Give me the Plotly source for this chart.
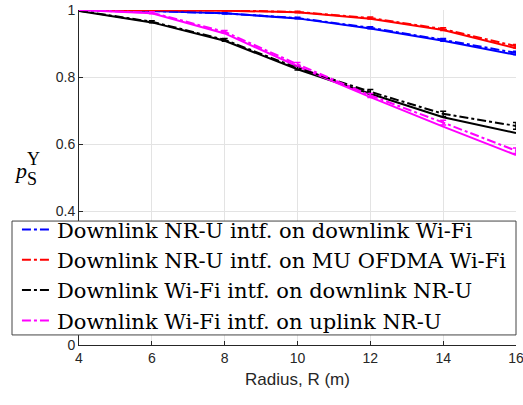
import plotly.graph_objects as go

radius = [4, 6, 8, 10, 12, 14, 16]

blue_solid = [1.0, 0.997, 0.99, 0.975, 0.945, 0.908, 0.866]
blue_dash = [1.0, 0.997, 0.99, 0.976, 0.947, 0.911, 0.872]
blue_err = [0.001, 0.001, 0.002, 0.002, 0.003, 0.004, 0.005]

red_solid = [1.0, 1.0, 0.998, 0.993, 0.974, 0.94, 0.886]
red_dash = [1.0, 1.0, 0.999, 0.994, 0.976, 0.943, 0.892]
red_err = [0.001, 0.001, 0.002, 0.002, 0.003, 0.004, 0.005]

black_solid = [0.997, 0.963, 0.908, 0.823, 0.75, 0.68, 0.633]
black_dash = [0.998, 0.965, 0.911, 0.827, 0.756, 0.69, 0.654]
black_err = [0.001, 0.003, 0.004, 0.006, 0.007, 0.008, 0.01]

mag_solid = [1.0, 0.99, 0.93, 0.832, 0.74, 0.652, 0.567]
mag_dash = [1.0, 0.992, 0.935, 0.838, 0.745, 0.664, 0.58]
mag_err = [0.001, 0.003, 0.004, 0.005, 0.006, 0.007, 0.008]

names = [
    "Downlink NR-U intf. on downlink Wi-Fi",
    "Downlink NR-U intf. on MU OFDMA Wi-Fi",
    "Downlink Wi-Fi intf. on downlink NR-U",
    "Downlink Wi-Fi intf. on uplink NR-U",
]
x_ticks = [4, 6, 8, 10, 12, 14, 16]
y_ticks = [0, 0.2, 0.4, 0.6, 0.8, 1]
y_tick_labels = ["0", "", "0.4", "0.6", "0.8", "1"]  # 0.2 is hidden by the legend

colors = ["#0000ff", "#ff0000", "#000000", "#ff00ff"]
solids = [blue_solid, red_solid, black_solid, mag_solid]
dashes = [blue_dash, red_dash, black_dash, mag_dash]
errs = [blue_err, red_err, black_err, mag_err]

fig = go.Figure()
for s, c in zip(solids, colors):
    fig.add_trace(go.Scatter(x=radius, y=s, mode="lines",
                             line=dict(color=c, width=2), showlegend=False))
for n, d, e, c in zip(names, dashes, errs, colors):
    fig.add_trace(go.Scatter(x=radius, y=d, mode="lines", name=n,
                             line=dict(color=c, width=2, dash="dashdot"),
                             error_y=dict(type="data", array=e, color=c,
                                          thickness=1.5, width=3)))

axis_common = dict(showgrid=True, gridcolor="#e3e3e3", gridwidth=1,
                   showline=True, linecolor="#262626", linewidth=1,
                   ticks="inside", ticklen=4, tickcolor="#262626",
                   tickfont=dict(family="Liberation Sans, Arial", size=14, color="#262626"),
                   zeroline=False, automargin=False, ticklabeloverflow="allow")

fig.update_layout(
    width=523, height=405,
    margin=dict(l=79, r=7, t=10, b=60, autoexpand=False),
    paper_bgcolor="white", plot_bgcolor="white",
    xaxis=dict(range=[4, 16], tickvals=x_ticks,
               title=dict(text="Radius, R (m)", standoff=8,
                          font=dict(family="Liberation Sans, Arial", size=17, color="#262626")),
               **axis_common),
    yaxis=dict(range=[0, 1], tickvals=y_ticks, ticktext=y_tick_labels, **axis_common),
    legend=dict(x=-0.142, y=0.405, xanchor="left", yanchor="top",
                bgcolor="rgba(0,0,0,0)", borderwidth=0,
                font=dict(family="DejaVu Serif, serif", size=21, color="#000000"),
                tracegroupgap=0),
    showlegend=True,
)

# legend frame (white box with dark border, as in the reference)
fig.add_shape(type="rect", xref="paper", yref="paper",
              x0=-0.1533, x1=1.0, y0=0.030, y1=0.370,
              fillcolor="white", line=dict(color="#444444", width=1), layer="above")

serif = "Liberation Serif, Times New Roman, serif"
fig.add_annotation(xref="paper", yref="paper", x=-0.114, y=0.522, xanchor="right", yanchor="middle",
                   text="<i>p</i>", showarrow=False, font=dict(family=serif, size=22, color="#000"))
fig.add_annotation(xref="paper", yref="paper", x=-0.124, y=0.555, xanchor="left", yanchor="middle",
                   text="Y", showarrow=False, font=dict(family=serif, size=18, color="#000"))
fig.add_annotation(xref="paper", yref="paper", x=-0.124, y=0.495, xanchor="left", yanchor="middle",
                   text="S", showarrow=False, font=dict(family=serif, size=18, color="#000"))

fig.write_html("out.html", config={"displayModeBar": False},
               post_script="document.body.style.margin='0';document.body.style.overflow='hidden';")
